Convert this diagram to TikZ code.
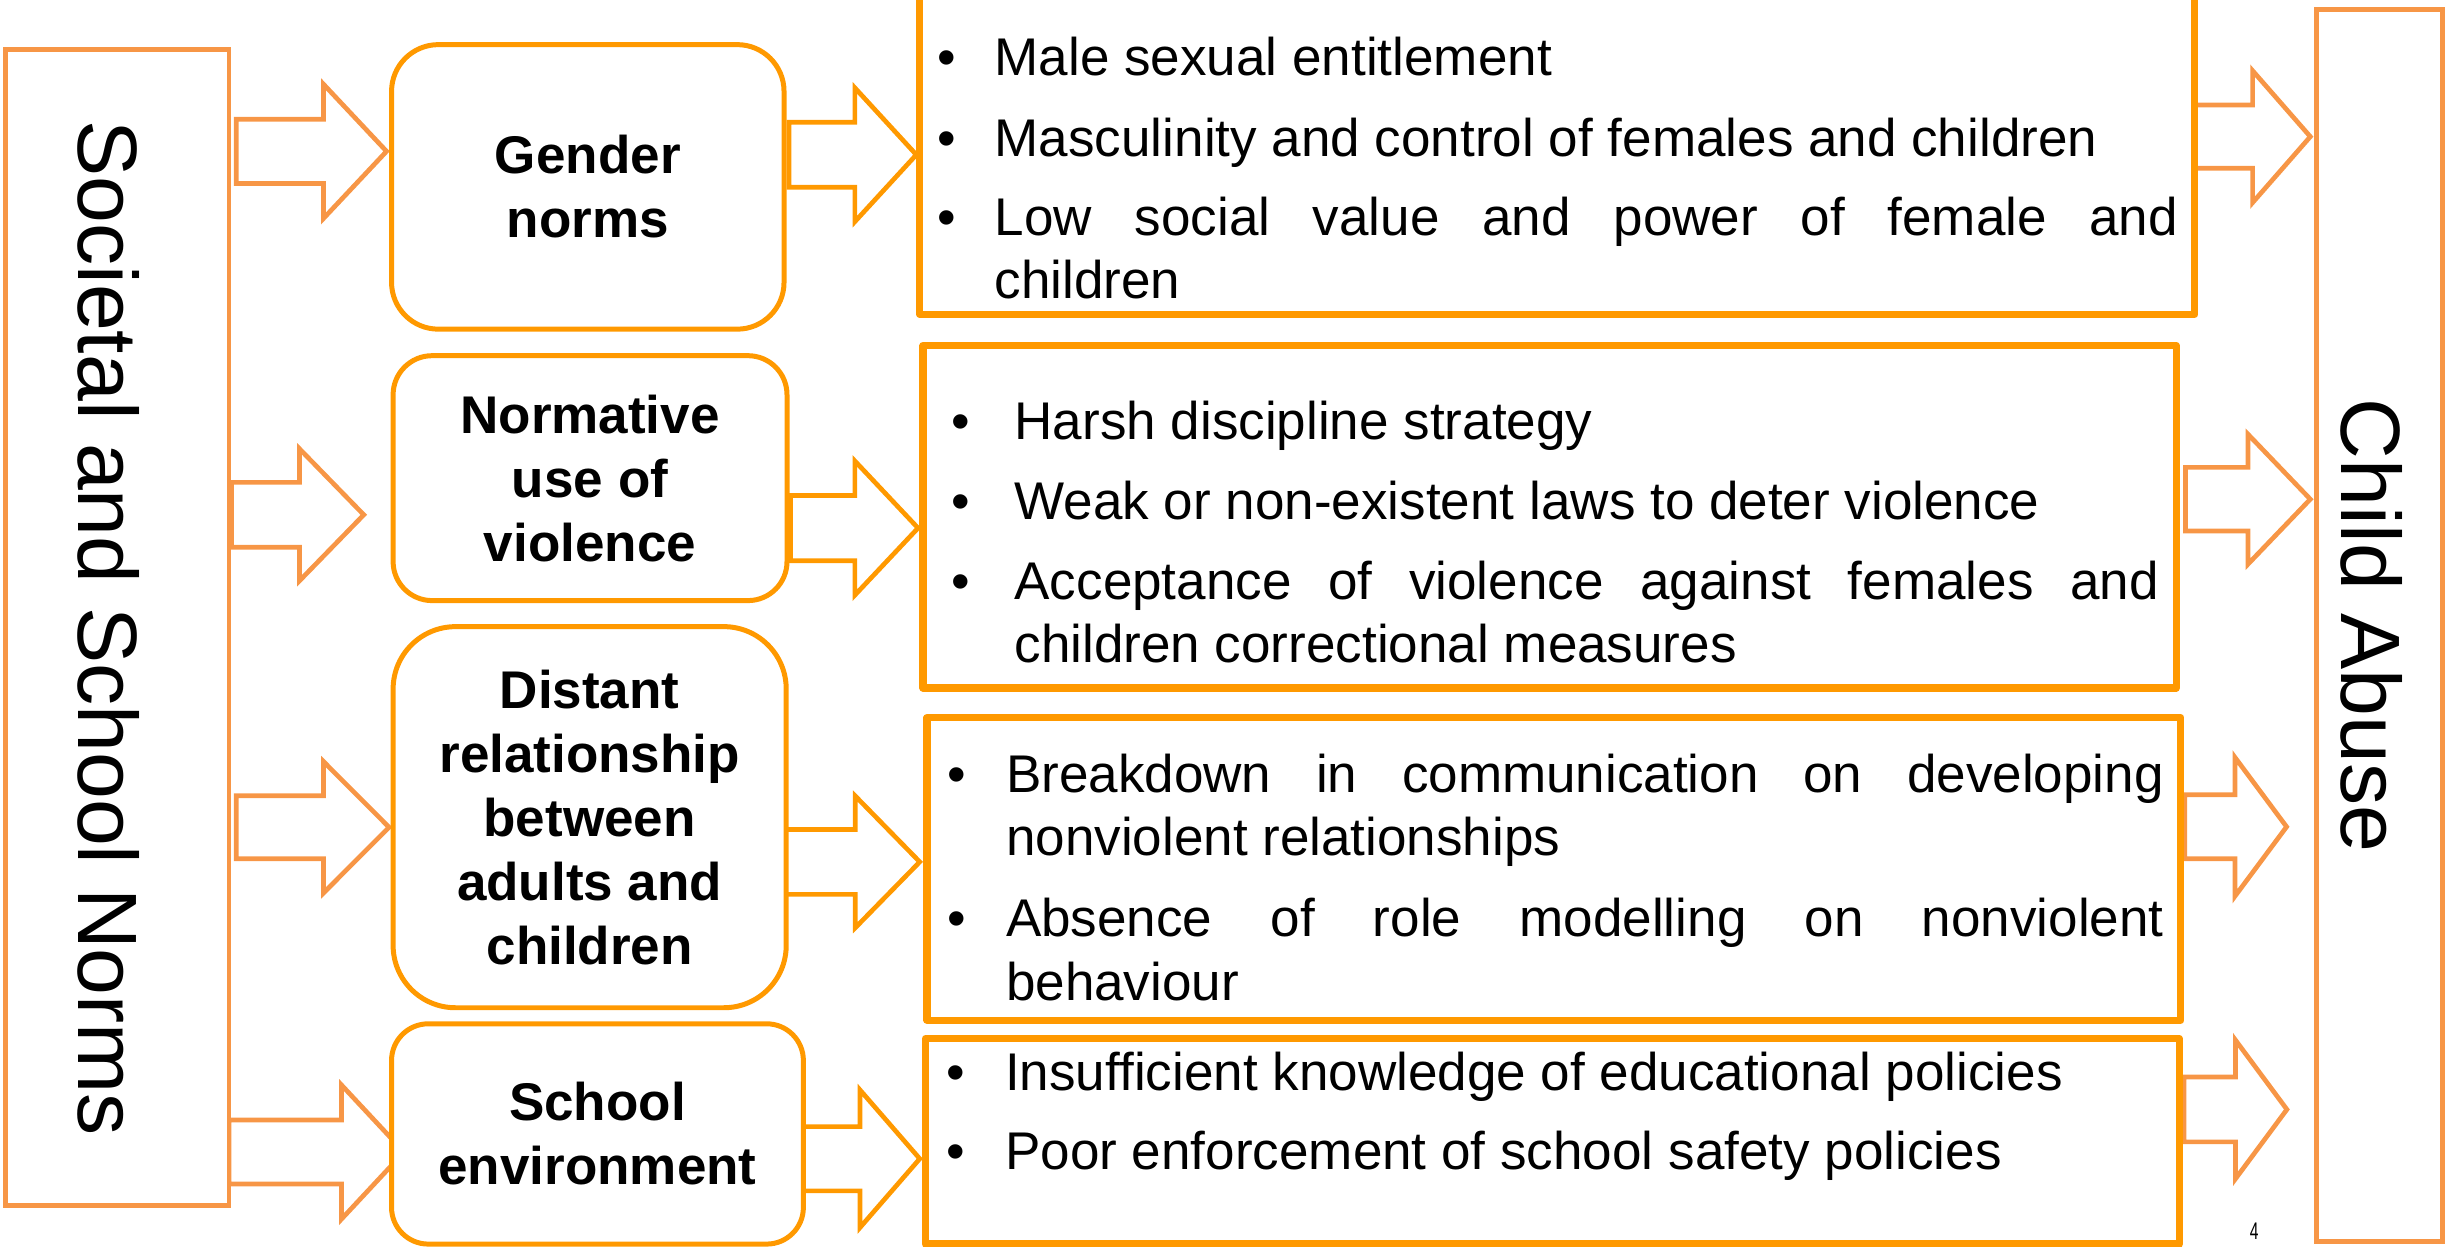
\documentclass[tikz,border=0pt]{standalone}
\usepackage{fontspec}
\usepackage{graphicx}
\setmainfont{Liberation Sans}
\usetikzlibrary{fit}

\definecolor{softorange}{HTML}{F79646}
\definecolor{brightorange}{HTML}{FF9900}

% loose justified lines in the bullet lists are wanted
\tolerance=10000

% Outlined block arrow: style, tail x, head-base x, tip x, centre y, shaft half-height, head half-height
\newcommand{\blockarrow}[7]{%
  \draw[#1] ({#2},{#5-#6}) -- ({#3},{#5-#6}) -- ({#3},{#5-#7}) -- ({#4},{#5})
    -- ({#3},{#5+#7}) -- ({#3},{#5+#6}) -- ({#2},{#5+#6}) -- cycle;}

\tikzset{
  sidebox/.style={draw=softorange, line width=1.6pt, fill=white, inner sep=0pt},
  factorbox/.style={draw=brightorange, line width=1.6pt, fill=white, inner sep=0pt},
  listbox/.style={draw=brightorange, line width=2.3pt, fill=white, inner sep=0pt, line join=round},
  sidelabel/.style={rotate=-90, inner sep=0pt, font=\fontsize{27}{32}\selectfont},
  factorlabel/.style={align=center, inner sep=0pt, font=\bfseries\fontsize{17}{20.5}\selectfont},
  itemtext/.style={anchor=base west, inner sep=0pt, align=justify, font=\fontsize{17}{20.3}\selectfont},
  bulletmark/.style={anchor=base, inner sep=0pt, font=\fontsize{17}{20.3}\selectfont},
  softarrow/.style={draw=softorange, line width=1.5pt},
  brightarrow/.style={draw=brightorange, line width=1.5pt},
}

\begin{document}
\begin{tikzpicture}[x=0.5pt, y=-0.5pt]
\useasboundingbox (0,0) rectangle (1568,799);

% ---- arrows: norms -> factors
\blockarrow{softarrow}{151.5}{207.4}{247.8}{97}{20.6}{43}
\blockarrow{softarrow}{148.4}{192}{233.2}{330}{20.8}{42.3}
\blockarrow{softarrow}{151.5}{207.4}{249.4}{530.3}{20.2}{42.1}
\blockarrow{softarrow}{146.8}{218.9}{259}{738.5}{20.5}{43}
% ---- arrows: factors -> lists
\blockarrow{brightarrow}{505.8}{548}{587.4}{99.2}{20.8}{42.9}
\blockarrow{brightarrow}{506.7}{548}{588.5}{338.5}{20.9}{43}
\blockarrow{brightarrow}{501.7}{548.3}{589.6}{552.5}{20.8}{42.2}
\blockarrow{brightarrow}{515}{551.3}{589.6}{742.8}{20.6}{44.1}
% ---- arrows: lists -> child abuse
\blockarrow{softarrow}{1406}{1444}{1481}{87.6}{20.3}{42.3}
\blockarrow{softarrow}{1401}{1441}{1481}{320}{20.4}{41.7}
\blockarrow{softarrow}{1400.6}{1432.7}{1465.8}{530}{20.5}{44.5}
\blockarrow{softarrow}{1400}{1433}{1466}{711.2}{20.8}{44.5}

% ---- outer boxes
\node[sidebox, fit={(3.3,31.8) (146.8,773)}] (norms) {};
\node[sidebox, fit={(1485,6) (1565.5,796)}] (abuse) {};
\node[sidelabel] (norms-label) at (69.5,402.7) {Societal and School Norms};
\node[sidelabel] (abuse-label) at (1520,401) {Child Abuse};

% ---- factor boxes
\node[factorbox, rounded corners=15pt, fit={(251,28.6) (502.6,211)}] (gender) {};
\node[factorbox, rounded corners=12.5pt, fit={(252,228) (504.5,385)}] (violence) {};
\node[factorbox, rounded corners=20pt, fit={(252,401.7) (504,646)}] (distant) {};
\node[factorbox, rounded corners=11.75pt, fit={(251,656.3) (515,797.5)}] (school) {};
\node[factorlabel] (gender-label) at (gender.center) {Gender\\norms};
\node[factorlabel] (violence-label) at (violence.center) {Normative\\use of\\violence};
\node[factorlabel] (distant-label) at (distant.center) {Distant\\relationship\\between\\adults and\\children};
\node[factorlabel] (school-label) at (school.center) {School\\environment};

% ---- list boxes
\node[listbox, fit={(589.6,-12) (1407,201.5)}] (list1) {};
\node[listbox, fit={(591.7,221.5) (1395,441)}] (list2) {};
\node[listbox, fit={(594.2,460) (1398,654)}] (list3) {};
\node[listbox, fit={(593.3,665.8) (1397,797.5)}] (list4) {};

% gender norms
\node[bulletmark] (l1a-mark) at (606.7,48.7) {•};
\node[itemtext, text width=379.3pt] (l1a) at (637.3,48.7) {Male sexual entitlement};
\node[bulletmark] (l1b-mark) at (606.7,100) {•};
\node[itemtext, text width=379.3pt] (l1b) at (637.3,100) {Masculinity and control of females and children};
\node[bulletmark] (l1c-mark) at (606.7,151) {•};
\node[itemtext, text width=379.3pt] (l1c) at (637.3,151) {Low social value and power of female and\linebreak children};

% normative use of violence
\node[bulletmark] (l2a-mark) at (616,282) {•};
\node[itemtext, text width=366.8pt] (l2a) at (650,282) {Harsh discipline strategy};
\node[bulletmark] (l2b-mark) at (616,333) {•};
\node[itemtext, text width=366.8pt] (l2b) at (650,333) {Weak or non-existent laws to deter violence};
\node[bulletmark] (l2c-mark) at (616,384) {•};
\node[itemtext, text width=366.8pt] (l2c) at (650,384) {Acceptance of violence against females and\linebreak children correctional measures};

% distant relationship
\node[bulletmark] (l3a-mark) at (613.5,507.9) {•};
\node[itemtext, text width=371.1pt] (l3a) at (644.5,507.9) {Breakdown in communication on developing\linebreak nonviolent relationships};
\node[bulletmark] (l3b-mark) at (613.5,600.5) {•};
\node[itemtext, text width=371.1pt] (l3b) at (644.5,600.5) {Absence of role modelling on nonviolent\linebreak behaviour};

% school environment
\node[bulletmark] (l4a-mark) at (612.4,699.2) {•};
\node[itemtext, text width=371.1pt] (l4a) at (644,699.2) {Insufficient knowledge of educational policies};
\node[bulletmark] (l4b-mark) at (612.4,750) {•};
\node[itemtext, text width=371.1pt] (l4b) at (644,750) {Poor enforcement of school safety policies};

% page number
\node[inner sep=0pt, font=\fontsize{7.7}{8}\selectfont] (pageno) at (1445,789) {\scalebox{0.65}[1]{4}};
\end{tikzpicture}
\end{document}
